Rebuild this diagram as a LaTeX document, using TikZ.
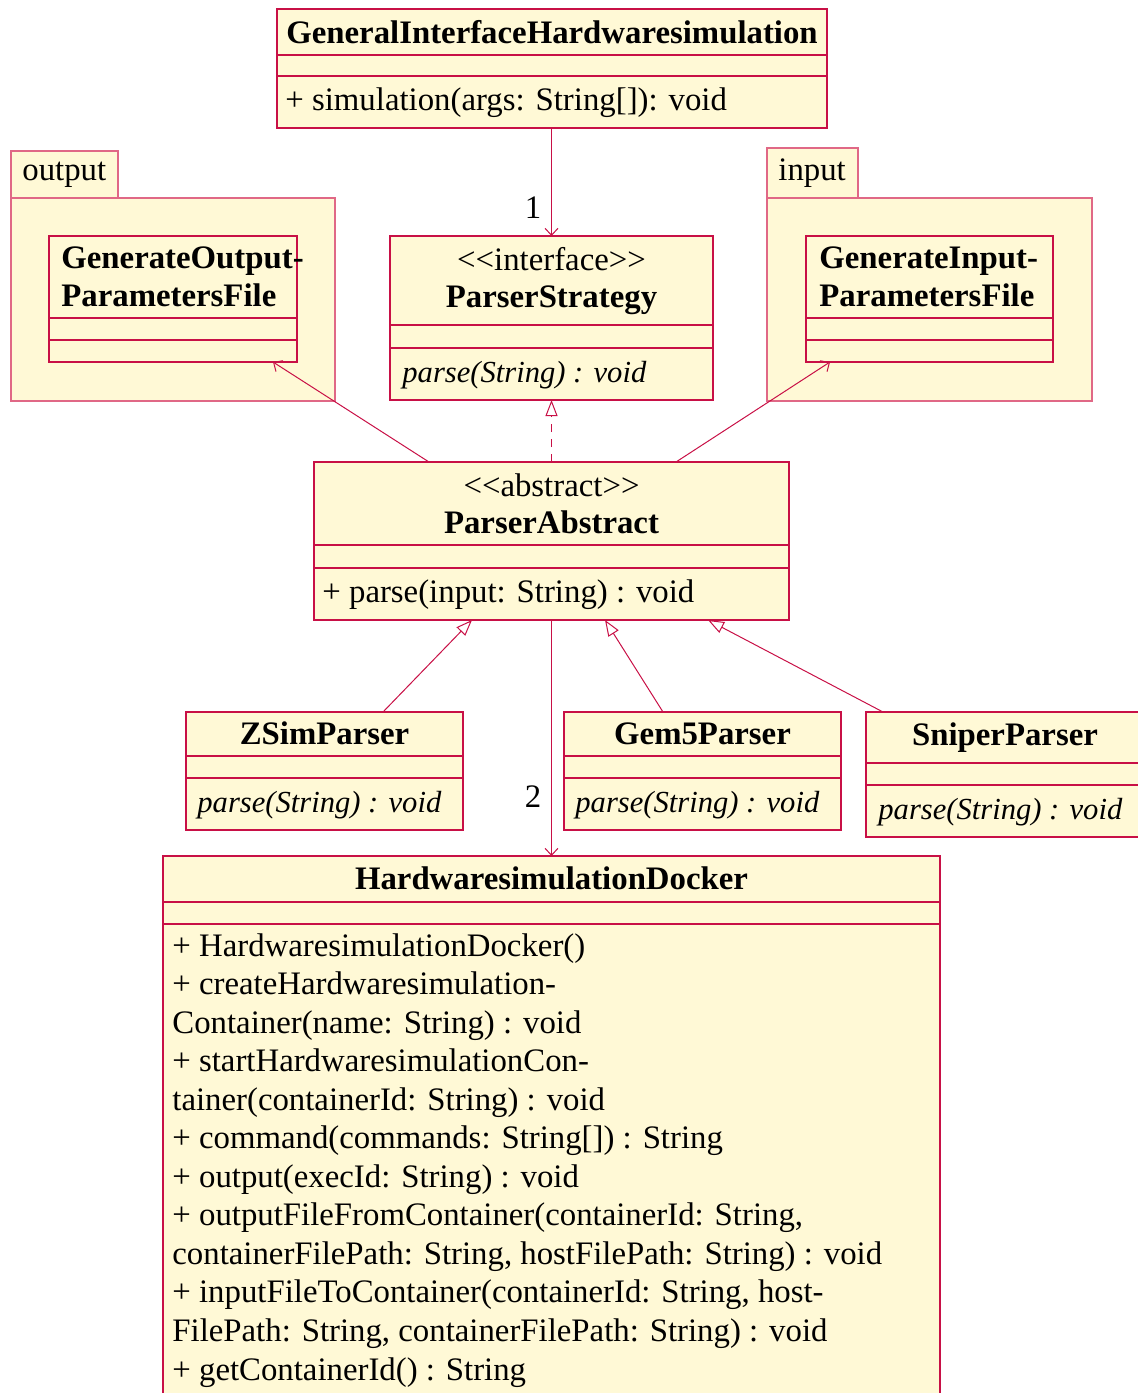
\documentclass[tikz,border=0pt]{standalone}
\usepackage{fontspec}
\setmainfont{Liberation Serif}
\usetikzlibrary{arrows.meta}

\definecolor{umlfill}{RGB}{255,249,214}
\definecolor{umlline}{RGB}{200,16,70}
\definecolor{pkgline}{RGB}{224,104,134}

\newcommand{\umlfont}{\fontsize{16.4}{19.25}\selectfont}
\newcommand{\umlitfont}{\fontsize{15.3}{19.25}\selectfont\itshape}

\tikzset{
  sz/.style 2 args={minimum width=#1*0.5pt, minimum height=#2*0.5pt},
  box/.style={draw=umlline, fill=umlfill, line width=0.6pt, inner sep=0pt,
              outer sep=0pt, anchor=north west},
  pkg/.style={box, draw=pkgline},
  sep/.style={draw=umlline, line width=0.6pt},
  txt/.style={inner sep=0pt, anchor=base west, font=\umlfont},
  itxt/.style={txt, font=\umlitfont},
  ctxt/.style={inner sep=0pt, anchor=base, font=\umlfont},
  cname/.style={ctxt, font=\umlfont\bfseries},
  conn/.style={draw=umlline, line width=0.5pt},
  assoc/.style={conn, -{Straight Barb[length=3.5pt,width=6.5pt]}},
  gen/.style={conn, -{Triangle[open,length=8pt,width=6pt]}},
  real/.style={gen, dash pattern=on 4pt off 3.5pt},
}

\begin{document}
\begin{tikzpicture}[x=0.5pt, y=-0.5pt]
\useasboundingbox (0,0) rectangle (1138,1393);
\clip (0,0) rectangle (1138,1393);

% --- GeneralInterfaceHardwaresimulation
\node[box, sz={550}{119}] (gih) at (277,9) {};
\draw[sep] (277,55) -- (827,55) (277,76) -- (827,76);
\node[cname] (gihn) at (552,43) {GeneralInterfaceHardwaresimulation};
\node[txt] (gihm) at (285,110) {+ simulation(args: String[]): void};

% --- package output
\node[pkg, sz={324}{203}] (outpkg) at (11,198) {};
\node[pkg, sz={107}{47}] (outtab) at (11,151) {};
\node[txt] (outlbl) at (22,180) {output};
\node[box, sz={248}{126}] (gop) at (49,236) {};
\draw[sep] (49,318) -- (297,318) (49,340) -- (297,340);
\node[txt, font=\umlfont\bfseries] (gop1) at (61,268) {GenerateOutput-};
\node[txt, font=\umlfont\bfseries] (gop2) at (61,306) {ParametersFile};

% --- package input
\node[pkg, sz={325}{203}] (inpkg) at (767,198) {};
\node[pkg, sz={91}{50}] (intab) at (767,148) {};
\node[txt] (inlbl) at (778,180) {input};
\node[box, sz={247}{126}] (gip) at (806,236) {};
\draw[sep] (806,318) -- (1053,318) (806,340) -- (1053,340);
\node[txt, font=\umlfont\bfseries] (gip1) at (819,268) {GenerateInput-};
\node[txt, font=\umlfont\bfseries] (gip2) at (819,306) {ParametersFile};

% --- ParserStrategy
\node[box, sz={323}{164}] (ps) at (390,236) {};
\draw[sep] (390,325) -- (713,325) (390,348) -- (713,348);
\node[ctxt] (pss) at (551.5,270) {<{}<interface>{}>};
\node[cname] (psn) at (551.5,307) {ParserStrategy};
\node[itxt] (psm) at (402,382) {parse(String) : void};

% --- ParserAbstract
\node[box, sz={475}{158}] (pa) at (314,462) {};
\draw[sep] (314,545) -- (789,545) (314,568) -- (789,568);
\node[ctxt] (pas) at (551.5,496) {<{}<abstract>{}>};
\node[cname] (pan) at (551.5,533) {ParserAbstract};
\node[txt] (pam) at (322,602) {+ parse(input: String) : void};

% --- ZSimParser
\node[box, sz={277}{118}] (zsim) at (186,712) {};
\draw[sep] (186,756) -- (463,756) (186,778) -- (463,778);
\node[cname] (zsimn) at (324.5,744) {ZSimParser};
\node[itxt] (zsimm) at (197,812) {parse(String) : void};

% --- Gem5Parser
\node[box, sz={277}{118}] (gem5) at (564,712) {};
\draw[sep] (564,756) -- (841,756) (564,778) -- (841,778);
\node[cname] (gem5n) at (702.5,744) {Gem5Parser};
\node[itxt] (gem5m) at (575,812) {parse(String) : void};

% --- SniperParser
\node[box, sz={278}{125}] (sniper) at (866,712) {};
\draw[sep] (866,763) -- (1144,763) (866,785) -- (1144,785);
\node[cname] (snipern) at (1005,745) {SniperParser};
\node[itxt] (sniperm) at (878,819) {parse(String) : void};

% --- HardwaresimulationDocker
\node[box, sz={777}{560}] (dock) at (163,856) {};
\draw[sep] (163,902) -- (940,902) (163,924) -- (940,924);
\node[cname] (dockn) at (551.5,889) {HardwaresimulationDocker};
\foreach \t [count=\i from 0] in {
  {+ HardwaresimulationDocker()},
  {+ createHardwaresimulation-},
  {Container(name: String) : void},
  {+ startHardwaresimulationCon-},
  {tainer(containerId: String) : void},
  {+ command(commands: String[]) : String},
  {+ output(execId: String) : void},
  {+ outputFileFromContainer(containerId: String,},
  {containerFilePath: String, hostFilePath: String) : void},
  {+ inputFileToContainer(containerId: String, host-},
  {FilePath: String, containerFilePath: String) : void},
  {+ getContainerId() : String}}
  \node[txt] (dockm\i) at (172,956+38.55*\i) {\t};

% --- connectors
\draw[assoc] (gih.south -| ps.north) -- (ps.north);
\node[ctxt] (mult1) at (533,218) {1};
\draw[real] (pa.north) -- (ps.south);
\draw[assoc] ([shift={(115,0)}]pa.north west) -- ([shift={(224,0)}]gop.south west);
\draw[assoc] ([shift={(362,0)}]pa.north west) -- ([shift={(24,0)}]gip.south west);
\draw[gen] ([shift={(197,0)}]zsim.north west) -- ([shift={(158,0)}]pa.south west);
\draw[gen] ([shift={(99,0)}]gem5.north west) -- ([shift={(291,0)}]pa.south west);
\draw[gen] ([shift={(17,0)}]sniper.north west) -- ([shift={(394,0)}]pa.south west);
\draw[assoc] (pa.south) -- (dock.north);
\node[ctxt] (mult2) at (533,807) {2};
\end{tikzpicture}
\end{document}
